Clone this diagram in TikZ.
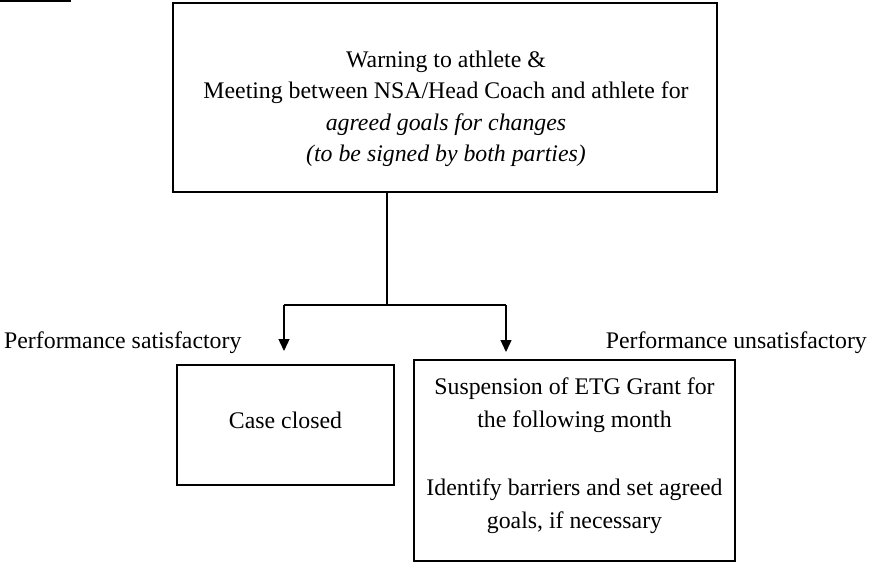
\documentclass[tikz,border=0pt]{standalone}
\usepackage{fontspec}
\setmainfont{Liberation Serif}
\usetikzlibrary{arrows.meta}
\begin{document}
\begin{tikzpicture}[x=1pt,y=-1pt,
  box/.style={draw,line width=1.3pt,inner sep=0pt},
  txt/.style={font=\fontsize{23.8}{31.5}\selectfont,align=center,inner sep=0pt},
  conn/.style={line width=1.3pt},
  arr/.style={line width=1.3pt,-{Triangle[width=11pt,length=12pt]}}]
\useasboundingbox (0,0) rectangle (869,563);
% partial box at top-left
\draw[line width=1.5pt] (-10,1.2) -- (70,1.2) -- (70,-10);
% main box
\node[box,minimum width=544pt,minimum height=189pt] (main) at (445,97.5) {};
\node[txt] (maintxt) at (446,109) {Warning to athlete \&\\Meeting between NSA/Head Coach and athlete for\\\textit{agreed goals for changes}\\\textit{(to be signed by both parties)}};
% lower boxes
\node[box,minimum width=217pt,minimum height=120pt] (closed) at (285.5,425) {};
\node[txt] (closedtxt) at (285.5,420) {Case closed};
\node[box,minimum width=321pt,minimum height=201pt] (susp) at (574.5,460.5) {};
\node[txt,font=\fontsize{23.8}{33}\selectfont] (susptxt) at (574.5,456) {Suspension of ETG Grant for\\the following month\\[35pt]Identify barriers and set agreed\\goals, if necessary};
% labels
\node[txt,anchor=west] (lsat) at (4,343) {Performance satisfactory};
\node[txt,anchor=east] (lunsat) at (867,343) {Performance unsatisfactory};
% connectors
\coordinate (j) at (387,305);
\coordinate (jl) at (284,305);
\coordinate (jr) at (506,305);
\coordinate (al) at (284,351);
\coordinate (ar) at (506,352);
\draw[line width=1.8pt] (main.south -| j) -- (j);
\draw[conn] (jl) -- (jr);
\draw[arr] (jl) -- (al);
\draw[arr] (jr) -- (ar);
\end{tikzpicture}
\end{document}
